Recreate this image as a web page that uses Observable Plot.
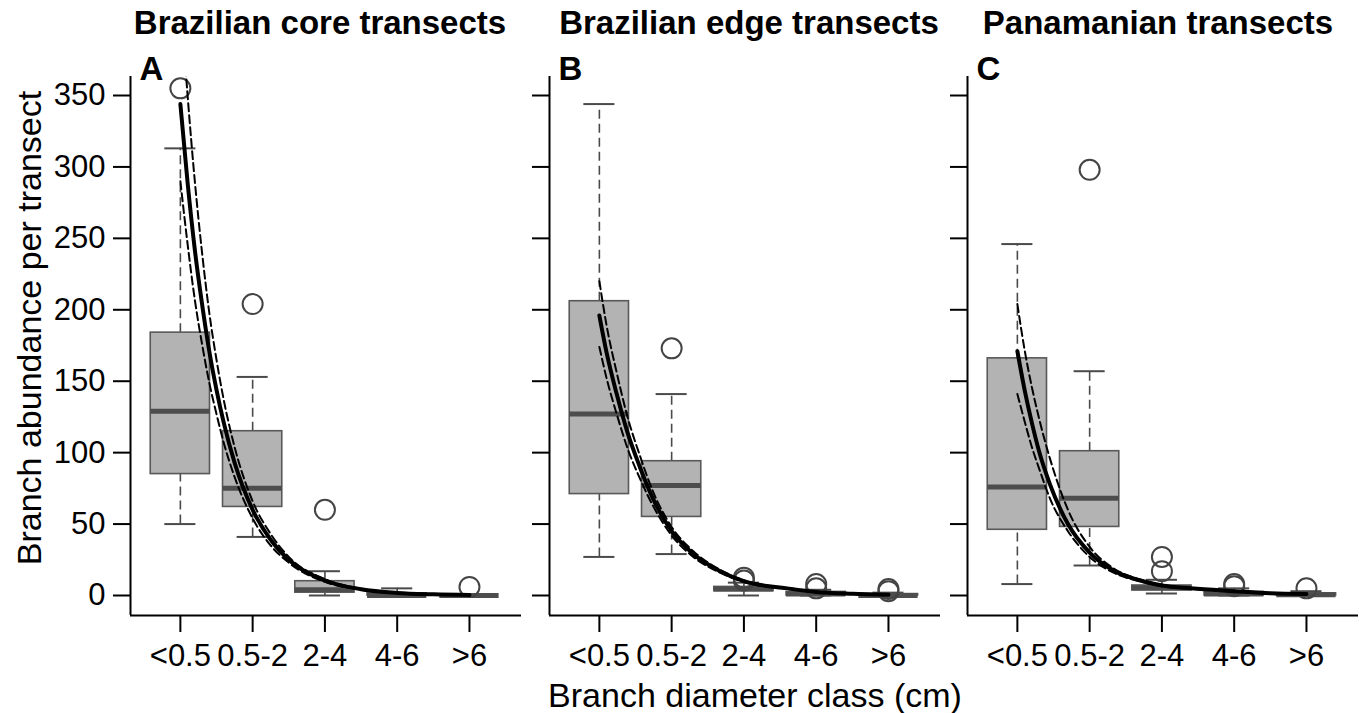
<!DOCTYPE html>
<html><head><meta charset="utf-8">
<script src="https://cdn.jsdelivr.net/npm/d3@7"></script>
<script src="https://cdn.jsdelivr.net/npm/@observablehq/plot@0.6"></script>
<style>
body{margin:0;background:#fff;}
#chart{position:relative;width:1359px;height:713px;overflow:hidden;background:#fff;}
#chart svg{position:absolute;top:0;}
</style></head><body><div id="chart"></div>
<script>
const categories = ["<0.5", "0.5-2", "2-4", "4-6", ">6"];
const yTicks = [0, 50, 100, 150, 200, 250, 300, 350];
const panelTitles = ["Brazilian core transects", "Brazilian edge transects", "Panamanian transects"];
const panelLetters = ["A", "B", "C"];
const yLabel = "Branch abundance per transect";
const xLabel = "Branch diameter class (cm)";

// A: Brazilian core transects
const coreLow = [50, 41, 0, 0, 0];
const coreQ1 = [85, 62, 2, 0, 0];
const coreMedian = [129, 75, 4, 0, 0];
const coreQ3 = [184, 115, 10, 1.5, 0];
const coreHigh = [313, 153, 17, 5, 0];
const coreOutCat = [0, 1, 2, 4];
const coreOutVal = [355, 204, 60, 6];
const coreFitU = [0, 0.1, 0.2, 0.3, 0.4, 0.5, 0.6, 0.75, 1, 1.25, 1.5, 2, 2.5, 3, 3.5, 4];
const coreFit = [344, 289, 242, 204, 171, 144, 121, 93, 60, 39, 25, 10.5, 4.4, 1.8, 0.8, 0.3];
const coreUpper = [420, 350, 290, 240, 198, 165, 137, 104, 66, 43, 27, 11.5, 4.8, 2, 0.9, 0.35];
const coreLower = [290, 246, 207, 176, 149, 127, 107, 83, 54, 35, 23, 9.5, 4, 1.6, 0.7, 0.27];

// B: Brazilian edge transects
const edgeLow = [27, 29, 0, 0, 0];
const edgeQ1 = [71, 55, 3, 0, 0];
const edgeMedian = [127, 77, 4.5, 1, 0];
const edgeQ3 = [206, 94, 6, 2.5, 1];
const edgeHigh = [344, 141, 9, 4, 2];
const edgeOutCat = [1, 2, 2, 3, 3, 4, 4];
const edgeOutVal = [173, 10.5, 12.5, 8, 5, 4.5, 3];
const edgeFitU = [0, 0.1, 0.24, 0.39, 0.56, 0.74, 1, 1.3, 1.67, 2, 2.6, 3, 3.5, 4];
const edgeFit = [196, 170, 141, 114, 90, 68, 45, 29, 17, 10, 5, 2.5, 1.2, 0.5];
const edgeUpper = [220, 189, 156, 125, 98, 73, 48, 31, 18, 10.6, 5.3, 2.6, 1.3, 0.55];
const edgeLower = [174, 152, 127, 103, 82, 63, 42, 27, 16, 9.4, 4.7, 2.4, 1.1, 0.45];

// C: Panamanian transects
const panLow = [8, 21, 1.4, 0, 0];
const panQ1 = [46, 48, 3.5, 0, 0];
const panMedian = [76, 68, 5.5, 1, 0.5];
const panQ3 = [166, 101, 7, 2.5, 1.5];
const panHigh = [246, 157, 11, 5, 3];
const panOutCat = [1, 2, 2, 3, 3, 4];
const panOutVal = [298, 17, 27, 8, 6.5, 5];
const panFitU = [0, 0.1, 0.2, 0.3, 0.45, 0.7, 1, 1.33, 1.7, 2, 2.4, 3, 3.5, 4];
const panFit = [171, 144, 121, 101, 78, 50, 30, 17.5, 10.5, 7, 5, 3, 1.5, 1];
const panUpper = [204, 172, 146, 124, 96, 60, 34, 19, 11.2, 7.5, 5.3, 3.2, 1.6, 1.05];
const panLower = [141, 122, 104, 89, 68, 45, 27, 16, 9.8, 6.5, 4.7, 2.8, 1.4, 0.95];

const xDomain = [-0.69, 4.72];
const yDomain = [-14, 363.3];
const FONT = "'Liberation Sans', Arial, Helvetica, sans-serif";

function panel(p) {
  const idx = d3.range(categories.length);
  const hw = 0.41, cw = 0.215;
  const fitPts = p.fitU.map((u, i) => ({u, fit: p.fit[i], up: p.upper[i], lo: p.lower[i]}));
  const outs = p.outCat.map((c, i) => ({c, v: p.outVal[i]}));
  const whisk = {stroke: "#4a4a4a", strokeWidth: 1.6, strokeDasharray: "9,5"};
  const cap = {stroke: "#4a4a4a", strokeWidth: 2};
  const marks = [
    Plot.ruleX(idx, {x: i => i, y1: i => p.q3[i], y2: i => p.high[i], ...whisk}),
    Plot.ruleX(idx, {x: i => i, y1: i => p.low[i], y2: i => p.q1[i], ...whisk}),
    Plot.ruleY(idx, {y: i => p.high[i], x1: i => i - cw, x2: i => i + cw, ...cap}),
    Plot.ruleY(idx, {y: i => p.low[i], x1: i => i - cw, x2: i => i + cw, ...cap}),
    Plot.rect(idx, {x1: i => i - hw, x2: i => i + hw, y1: i => p.q1[i], y2: i => p.q3[i], fill: "#b3b3b3", stroke: "#595959", strokeWidth: 1.6}),
    Plot.ruleY(idx, {y: i => p.median[i], x1: i => i - hw, x2: i => i + hw, stroke: "#4d4d4d", strokeWidth: 5}),
    Plot.dot(outs, {x: "c", y: "v", r: 10, stroke: "#444", strokeWidth: 2, fill: "none"}),
    Plot.line(fitPts, {x: "u", y: "up", stroke: "black", strokeWidth: 2, strokeDasharray: "8,4", curve: "monotone-x", clip: true}),
    Plot.line(fitPts, {x: "u", y: "lo", stroke: "black", strokeWidth: 2, strokeDasharray: "8,4", curve: "monotone-x", clip: true}),
    Plot.line(fitPts, {x: "u", y: "fit", stroke: "black", strokeWidth: 4, curve: "monotone-x", clip: true}),
    Plot.ruleX([xDomain[0]], {stroke: "black", strokeWidth: 2}),
    Plot.ruleY([yDomain[0]], {stroke: "black", strokeWidth: 2}),
    Plot.axisX({ticks: [0, 1, 2, 3, 4], tickFormat: i => categories[i], tickSize: 17, tickPadding: 11, strokeWidth: 2, label: null}),
    Plot.axisY({ticks: yTicks, tickSize: 17, tickPadding: 8, tickFormat: p.showY ? (d => String(d)) : (() => ""), strokeWidth: 2, label: null}),
    Plot.text([p.title], {frameAnchor: "top", dx: p.titleDx, dy: -43, lineAnchor: "bottom", fontWeight: "bold", fontSize: 33}),
    Plot.text([p.letter], {frameAnchor: "top-left", dx: 9, dy: 3, textAnchor: "start", lineAnchor: "bottom", fontWeight: "bold", fontSize: 33})
  ];
  if (p.showY) {
    marks.push(Plot.text([yLabel], {frameAnchor: "left", rotate: -90, dx: -90, dy: -18, lineAnchor: "bottom", textAnchor: "middle", fontSize: 34}));
  }
  if (p.showX) {
    marks.push(Plot.text([xLabel], {frameAnchor: "bottom", dx: 10, dy: 91, lineAnchor: "bottom", textAnchor: "middle", fontSize: 34}));
  }
  const svg = Plot.plot({
    width: p.marginLeft + 391,
    height: 713,
    marginLeft: p.marginLeft,
    marginRight: 0,
    marginTop: 76,
    marginBottom: 98,
    x: {domain: xDomain},
    y: {domain: yDomain},
    style: {fontFamily: FONT, fontSize: "31px", background: "transparent", color: "black", overflow: "visible"},
    marks
  });
  svg.style.left = p.left + "px";
  return svg;
}

const chart = document.getElementById("chart");
chart.appendChild(panel({title: panelTitles[0], letter: panelLetters[0], titleDx: -6, showY: true, showX: false, marginLeft: 130, left: 0,
  low: coreLow, q1: coreQ1, median: coreMedian, q3: coreQ3, high: coreHigh, outCat: coreOutCat, outVal: coreOutVal,
  fitU: coreFitU, fit: coreFit, upper: coreUpper, lower: coreLower}));
chart.appendChild(panel({title: panelTitles[1], letter: panelLetters[1], titleDx: 4, showY: false, showX: true, marginLeft: 20, left: 529,
  low: edgeLow, q1: edgeQ1, median: edgeMedian, q3: edgeQ3, high: edgeHigh, outCat: edgeOutCat, outVal: edgeOutVal,
  fitU: edgeFitU, fit: edgeFit, upper: edgeUpper, lower: edgeLower}));
chart.appendChild(panel({title: panelTitles[2], letter: panelLetters[2], titleDx: -5, showY: false, showX: false, marginLeft: 20, left: 947,
  low: panLow, q1: panQ1, median: panMedian, q3: panQ3, high: panHigh, outCat: panOutCat, outVal: panOutVal,
  fitU: panFitU, fit: panFit, upper: panUpper, lower: panLower}));
</script>
</body></html>
